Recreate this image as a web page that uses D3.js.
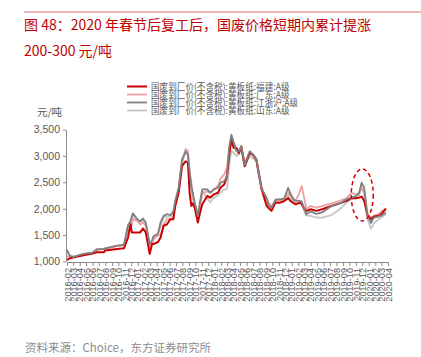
<!DOCTYPE html>
<html><head><meta charset="utf-8">
<script src="https://cdn.jsdelivr.net/npm/d3@7"></script>
<style>
html,body{margin:0;padding:0;background:#fff;}
svg{display:block;font-family:"Liberation Sans","Noto Sans CJK SC",sans-serif;}
</style></head>
<body><svg id="c" width="421" height="357"></svg>
<script>
const dates = ["2016-02-01","2016-02-15","2016-03-04","2016-04-20","2016-06-01","2016-06-22","2016-07-24","2016-08-01","2016-09-26","2016-10-28",
"2016-11-16","2016-11-28","2016-12-04","2016-12-09","2016-12-30","2017-01-13","2017-01-26","2017-02-08","2017-02-27","2017-03-10",
"2017-03-17","2017-04-07","2017-04-19","2017-05-04","2017-05-19","2017-06-05","2017-06-19","2017-06-28","2017-07-14","2017-07-30",
"2017-08-16","2017-08-27","2017-09-04","2017-09-12","2017-09-19","2017-09-28","2017-10-13","2017-10-22","2017-11-03","2017-11-27",
"2017-12-10","2017-12-28","2018-01-16","2018-01-29","2018-02-15","2018-02-28","2018-03-10","2018-03-21","2018-04-01","2018-04-14",
"2018-04-25","2018-05-07","2018-05-23","2018-06-16","2018-07-01","2018-07-17","2018-08-11","2018-09-04","2018-09-16","2018-09-27",
"2018-10-16","2018-11-06","2018-11-25","2018-12-15","2018-12-25","2019-01-08","2019-01-19","2019-02-06","2019-02-17","2019-03-01",
"2019-03-11","2019-04-01","2019-04-28","2019-05-25","2019-07-08","2019-08-16","2019-09-18","2019-10-10","2019-11-04","2019-11-16",
"2019-11-28","2019-12-10","2019-12-26","2020-01-11","2020-01-25","2020-02-16","2020-03-01","2020-03-22"];

const fujian = [1030,1060,1081,1120,1150,1175,1175,1207,1238,1250,
1450,1708,1551,1551,1551,1551,1626,1551,1144,1332,
1332,1370,1450,1677,1700,1802,1802,2053,2300,2805,
2899,2870,2300,2053,2100,2020,1740,1900,2084,2241,
2209,2272,2303,2400,2460,2617,3000,3307,3150,3150,
3050,3181,2805,3055,3020,2930,2372,2053,2000,1959,
2115,2115,2140,2200,2150,2110,2084,2110,2090,2000,
1959,1990,1959,1990,2050,2100,2150,2200,2200,2209,
2230,2150,1865,1800,1850,1865,1900,2000];

const guangdong = [1100,1080,1090,1144,1170,1240,1238,1240,1290,1310,
1600,1650,1700,1800,1771,1700,1740,1680,1260,1350,
1420,1500,1489,1700,1800,1802,1850,2084,2350,2850,
3130,3100,2700,2500,2200,2100,1900,2000,2300,2330,
2300,2366,2429,2573,2650,2773,3100,3380,3250,3120,
3100,3150,2850,3087,3030,2950,2420,2150,2100,2050,
2150,2150,2200,2250,2300,2200,2150,2300,2429,2200,
2000,2050,2020,2050,2100,2150,2200,2300,2272,2300,
2397,2300,1900,1830,1870,1900,1950,2000];

const jiangzhehu = [1220,1100,1090,1144,1170,1225,1238,1250,1301,1320,
1677,1770,1850,1915,1802,1760,1815,1740,1332,1400,
1480,1520,1740,1865,1896,1880,1950,2147,2400,2930,
3087,3030,2700,2429,2300,2115,1865,2100,2366,2366,
2303,2366,2397,2491,2523,2617,3150,3400,3250,3087,
3087,3181,2830,3087,3030,2930,2372,2209,2053,2020,
2170,2180,2180,2397,2280,2180,2150,2150,2140,2000,
1893,1950,1900,1930,2050,2100,2180,2209,2241,2300,
2491,2400,1865,1730,1830,1850,1870,1930];

const shandong = [1200,1110,1090,1144,1170,1225,1238,1250,1301,1300,
1700,1740,1800,1870,1771,1740,1790,1700,1300,1350,
1460,1520,1650,1833,1850,1860,1900,2115,2380,2900,
3060,3000,2600,2400,2200,2050,1800,2000,2330,2200,
2115,2209,2250,2303,2366,2366,2800,3100,3050,3000,
3030,3100,2800,3000,2950,2900,2350,2115,2000,2000,
2130,2140,2150,2300,2200,2140,2100,2110,2100,1950,
1870,1865,1833,1830,1880,1990,2115,2180,2209,2250,
2400,2300,1800,1620,1720,1800,1830,1900];

const seriesNames = ["国废到厂价(不含税):黄板纸:福建:A级","国废到厂价(不含税):黄板纸:广东:A级","国废到厂价(不含税):黄板纸:江浙沪:A级","国废到厂价(不含税):黄板纸:山东:A级"];
const seriesColors = ["#cc0000","#f0a0a0","#7f7f7f","#c6c6c6"];
const yTicks = [1000,1500,2000,2500,3000,3500];
const xTickLabels = ["2016-02","2016-03","2016-04","2016-05","2016-06","2016-07","2016-08","2016-09","2016-10","2016-11","2016-12",
"2017-01","2017-02","2017-03","2017-04","2017-05","2017-06","2017-07","2017-08","2017-09","2017-10","2017-11","2017-12",
"2018-01","2018-02","2018-03","2018-04","2018-05","2018-06","2018-07","2018-08","2018-09","2018-10","2018-11","2018-12",
"2019-01","2019-02","2019-03","2019-04","2019-05","2019-06","2019-07","2019-08","2019-09","2019-10","2019-11","2019-12",
"2020-01","2020-02","2020-03","2020-04"];
const titleLines = ["图 48：2020 年春节后复工后，国废价格短期内累计提涨","200-300 元/吨"];
const unitLabel = "元/吨";
const sourceText = "资料来源：Choice，东方证券研究所";
const highlight = {date:"2019-12-01", value:2260};

const svg = d3.select("#c");
const parseD = d3.timeParse("%Y-%m-%d");
const parseM = d3.timeParse("%Y-%m");
const fmtM = d3.timeFormat("%Y-%m");

// header
svg.append("line").attr("x1",24).attr("x2",421).attr("y1",12).attr("y2",12)
  .attr("stroke","#e36b6b").attr("stroke-width",1.2);
svg.selectAll("text.title").data(titleLines).join("text").attr("class","title")
  .attr("x",24).attr("y",(d,i)=>30+i*26)
  .attr("fill","#c00000").attr("font-size",14).attr("font-weight",400)
  .style("font-family",'"Noto Sans CJK SC","Liberation Sans",sans-serif')
  .style("white-space","pre")
  .text(d=>d);

const x = d3.scaleTime().domain([parseM("2016-02"), parseM("2020-04")]).range([67, 388]);
const y = d3.scaleLinear().domain([1000,3500]).range([261.5,129.5]);

// axes
const yAx = svg.append("g").attr("transform","translate(66,0)")
  .call(d3.axisLeft(y).tickValues(yTicks).tickSize(3).tickSizeOuter(0).tickFormat(d3.format(",")));
yAx.select(".domain").attr("stroke","#8c8c8c");
yAx.selectAll(".tick line").attr("stroke","#8c8c8c");
yAx.selectAll(".tick text").attr("fill","#595959").attr("font-size",10.5).attr("x",-6)
  .style("font-family","Liberation Sans, sans-serif");

const xAx = svg.append("g").attr("transform","translate(0,262)")
  .call(d3.axisBottom(x).tickValues(xTickLabels.map(parseM)).tickSize(4).tickSizeOuter(0).tickFormat(fmtM));
xAx.select(".domain").attr("stroke","#8c8c8c");
xAx.selectAll(".tick line").attr("stroke","#8c8c8c");
xAx.selectAll(".tick text").attr("fill","#595959").attr("font-size",9.2)
  .style("font-family","Liberation Sans, sans-serif")
  .attr("transform","rotate(-90)").attr("x",-6).attr("y",0).attr("dy","0.35em")
  .style("text-anchor","end");

svg.append("text").attr("x",37).attr("y",116).attr("font-size",10.5).attr("fill","#595959")
  .style("font-family",'"Noto Sans CJK SC",sans-serif').text(unitLabel);

// lines
const allSeries = [fujian, guangdong, jiangzhehu, shandong];
const pdates = dates.map(parseD);
const line = d3.line().x((d,i)=>x(pdates[i])).y(d=>y(d));
const drawOrder = [3,1,0,2];
const widths = [2,1.8,1.8,1.8];
drawOrder.forEach(k=>{
  svg.append("path").datum(allSeries[k]).attr("d",line)
    .attr("fill","none").attr("stroke",seriesColors[k]).attr("stroke-width",widths[k])
    .attr("stroke-linejoin","round");
});

// highlight ellipse
svg.append("ellipse").attr("cx",x(parseD(highlight.date))).attr("cy",y(highlight.value))
  .attr("rx",11).attr("ry",26).attr("fill","none").attr("stroke","#d40000")
  .attr("stroke-width",1.5).attr("stroke-dasharray","4,3");

// legend
const lg = svg.append("g");
seriesNames.forEach((n,i)=>{
  const yy = 86.5 + i*8;
  lg.append("line").attr("x1",127).attr("x2",147).attr("y1",yy).attr("y2",yy)
    .attr("stroke",seriesColors[i]).attr("stroke-width",widths[i]);
  lg.append("text").attr("x",151).attr("y",yy).attr("dy","0.35em").attr("font-size",8.6)
    .attr("fill","#595959").style("font-family",'"Noto Sans CJK SC",sans-serif').text(n);
});

svg.append("text").attr("x",25).attr("y",352).attr("font-size",11.5).attr("fill","#8c8c8c")
  .style("font-family",'"Noto Sans CJK SC",sans-serif').text(sourceText);
</script></body></html>
